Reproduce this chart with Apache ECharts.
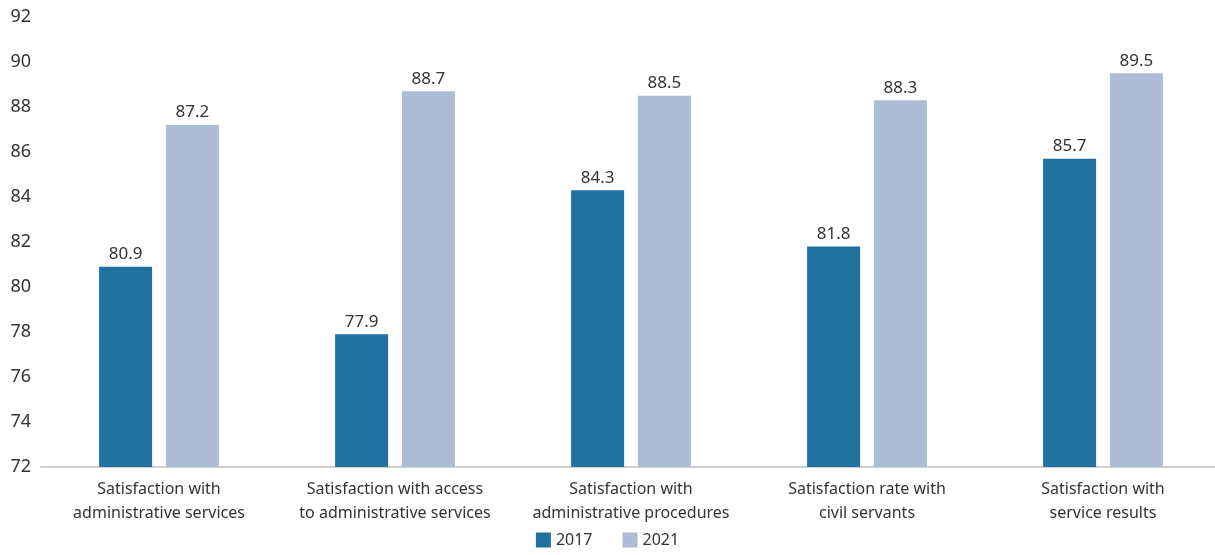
<!DOCTYPE html>
<html>
<head>
<meta charset="utf-8">
<script src="https://cdn.jsdelivr.net/npm/echarts@6/dist/echarts.min.js"></script>
<style>
  html, body { margin: 0; padding: 0; background: #fff; }
  #chart { width: 1215px; height: 555px; }
</style>
</head>
<body>
<div id="chart"></div>
<script>
const categories = [
  'Satisfaction with\nadministrative services',
  'Satisfaction with access\nto administrative services',
  'Satisfaction with\nadministrative procedures',
  'Satisfaction rate with\ncivil servants',
  'Satisfaction with\nservice results',
];
const values2017 = [80.9, 77.9, 84.3, 81.8, 85.7];
const values2021 = [87.2, 88.7, 88.5, 88.3, 89.5];

const font = 'Noto Sans';
const chart = echarts.init(document.getElementById('chart'));
const barLabel = {
  show: true,
  position: 'top',
  color: '#333',
  fontSize: 17,
  fontFamily: font,
  distance: 4,
  formatter: p => p.value.toFixed(1),
};
chart.setOption({
  animation: false,
  textStyle: { fontFamily: font },
  grid: { left: 41, top: 17, width: 1180, height: 450, outerBoundsMode: 'none' },
  legend: {
    bottom: 2,
    left: 'center',
    itemWidth: 15,
    itemHeight: 15,
    itemGap: 30,
    icon: 'rect',
    textStyle: { fontSize: 16, color: '#333', fontFamily: font },
    data: ['2017', '2021'],
  },
  xAxis: {
    type: 'category',
    data: categories,
    axisLine: { lineStyle: { color: '#d0d0d0', width: 2 } },
    axisTick: { show: false },
    axisLabel: {
      interval: 0,
      color: '#333',
      fontSize: 16,
      lineHeight: 24,
      margin: 10,
      fontFamily: font,
    },
  },
  yAxis: {
    type: 'value',
    min: 72,
    max: 92,
    interval: 2,
    splitLine: { show: false },
    axisLine: { show: false },
    axisTick: { show: false },
    axisLabel: { color: '#333', fontSize: 18, margin: 10, fontFamily: font },
  },
  series: [
    {
      name: '2017',
      type: 'bar',
      data: values2017,
      barWidth: 53,
      barGap: '26%',
      itemStyle: { color: '#20719f' },
      label: barLabel,
    },
    {
      name: '2021',
      type: 'bar',
      data: values2021,
      barWidth: 53,
      itemStyle: { color: '#adbcd7' },
      label: barLabel,
    },
  ],
});
</script>
</body>
</html>
